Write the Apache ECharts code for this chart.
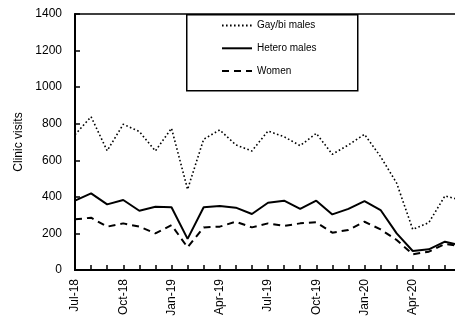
<!DOCTYPE html>
<html>
<head>
<meta charset="utf-8">
<script src="https://cdn.jsdelivr.net/npm/echarts@6/dist/echarts.min.js"></script>
<style>html,body{margin:0;padding:0;background:#fff;}#c{width:455px;height:317px;}</style>
</head>
<body>
<div id="c"></div>
<script>
var months = ['Jul-18','Aug-18','Sep-18','Oct-18','Nov-18','Dec-18','Jan-19','Feb-19','Mar-19','Apr-19','May-19','Jun-19','Jul-19','Aug-19','Sep-19','Oct-19','Nov-19','Dec-19','Jan-20','Feb-20','Mar-20','Apr-20','May-20','Jun-20','Jul-20'];
var gayBi  = [740,838,652,797,757,651,775,441,715,766,684,651,760,729,680,747,633,684,742,620,475,222,259,405,382];
var hetero = [379,419,359,383,324,346,343,170,343,350,341,306,368,379,334,379,304,334,377,328,200,104,113,155,135];
var women  = [277,286,237,255,237,200,246,124,233,237,264,233,255,241,255,261,204,219,264,222,164,86,100,142,130];
var yTicks = [0,200,400,600,800,1000,1200,1400];

var FONT = "'Liberation Sans', Arial, sans-serif";
var chart = echarts.init(document.getElementById('c'));
chart.setOption({
  animation: false,
  backgroundColor: '#fff',
  grid: {left: 75, top: 14, right: -6, bottom: 47, show: true, borderColor: '#000', borderWidth: 1.5, containLabel: false, outerBoundsMode: 'none'},
  graphic: [{
    type: 'rect', left: 186, top: 14, z: 10,
    shape: {width: 171, height: 76},
    style: {fill: '#fff', stroke: '#000', lineWidth: 1.5}
  }],
  legend: {
    orient: 'vertical', left: 221, top: 20, padding: 0, z: 20,
    itemWidth: 30, itemHeight: 14, itemGap: 11.5,
    itemStyle: {opacity: 0, borderWidth: 0},
    textStyle: {fontFamily: FONT, fontSize: 10, color: '#000'},
    data: ['Gay/bi males','Hetero males','Women']
  },
  xAxis: {
    type: 'category', data: months, boundaryGap: false,
    axisLine: {lineStyle: {color: '#000', width: 2}},
    axisTick: {inside: true, length: 5, alignWithLabel: true, interval: 0, lineStyle: {color: '#000', width: 1.5}},
    axisLabel: {rotate: 90, interval: 2, margin: 9, fontFamily: FONT, fontSize: 12, color: '#000', hideOverlap: false}
  },
  yAxis: {
    type: 'value', min: yTicks[0], max: yTicks[yTicks.length-1], interval: 200,
    name: 'Clinic visits', nameLocation: 'middle', nameGap: 50,
    nameTextStyle: {fontFamily: FONT, fontSize: 12, color: '#000'},
    axisLine: {show: true, lineStyle: {color: '#000', width: 2}},
    axisTick: {show: true, inside: true, length: 5, lineStyle: {color: '#000', width: 1.5}},
    axisLabel: {margin: 13, fontFamily: FONT, fontSize: 12, color: '#000', formatter: function (v) { return String(v); }},
    splitLine: {show: false}
  },
  series: [
    {name: 'Gay/bi males', type: 'line', data: gayBi, symbol: 'none', lineStyle: {color: '#000', width: 1.6, type: [1.6, 2.4]}, itemStyle: {color: '#000'}},
    {name: 'Hetero males', type: 'line', data: hetero, symbol: 'none', lineStyle: {color: '#000', width: 2}, itemStyle: {color: '#000'}},
    {name: 'Women', type: 'line', data: women, symbol: 'none', lineStyle: {color: '#000', width: 2, type: [7, 5]}, itemStyle: {color: '#000'}}
  ]
});
</script>
</body>
</html>
